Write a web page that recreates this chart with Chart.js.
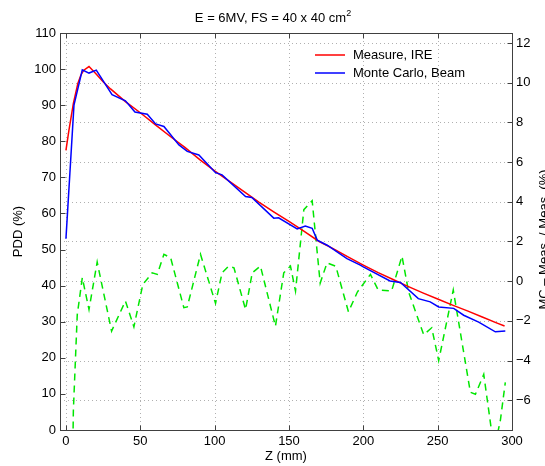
<!DOCTYPE html>
<html>
<head>
<meta charset="utf-8">
<script src="https://cdn.jsdelivr.net/npm/chart.js@4.4.1/dist/chart.umd.min.js"></script>
<style>
html,body{margin:0;padding:0;background:#fff;}
canvas{display:block;}
</style>
</head>
<body>
<canvas id="c" width="545" height="466"></canvas>
<script>
// ---- data ----
const measZ   = [0,2,5,8,10,12,15.5,20,25,30,40,50,60,70,80,90,100,110,120,130,140,150,160,170,180,190,200,210,220,230,240,250,260,270,280,290,295];
const measPDD = [77.5,83,90.5,96,98.3,99.7,100.7,98.8,96.5,94.5,91,87.9,84.6,81.4,78.3,74.9,71.8,68.9,66.0,63.1,60.4,57.8,55.1,52.3,50.2,47.9,45.7,43.6,41.7,39.8,38,36.3,34.6,33,31.3,29.6,28.8];

const mcZ   = [0,5.4,11,15.5,20.4,31,40,46.4,54.7,60.3,65.9,76,81.6,89.4,100.6,105,120.8,125,139.8,143,155.5,161,165.6,169,175.7,189,198,200,218,225,237,245,250.7,260.8,267.5,277.6,288.8,295.5];
const mcPDD = [53,90,99.8,98.9,99.7,92.9,91.2,88.1,87.5,84.8,84.1,79,77.2,76.2,71.3,70.7,64.7,64.4,58.7,58.8,55.7,56.5,55.9,52.6,51.2,47.5,45.7,45.2,41.3,40.9,36.4,35.5,34.1,33.7,31.8,29.9,27.2,27.4];

const diffZ   = [0,5,7.6,11,15.5,21,30.7,40,45.7,51.7,58,61.4,65.9,70.4,79.3,81.6,90.5,100.6,105,109.5,113,120.8,125.3,130.8,140.9,146.5,151,154.4,160,165.6,171,175.6,181.5,190,196,204.8,210,219,226,230.5,240.6,246,250.7,260.5,272,275.4,281,288,292.2,295.5];
const diffVal = [-31,-6.5,-1.7,0.17,-1.43,0.96,-2.52,-1.0,-2.3,-0.17,0.42,0.34,1.35,1.18,-1.34,-1.3,1.35,-1.12,0.42,0.76,0.67,-1.43,0.42,0.76,-2.27,0.42,0.76,-0.5,3.6,4.05,-0.1,0.92,0.75,-1.55,-0.55,0.34,-0.45,-0.5,1.26,-0.55,-2.7,-2.35,-4.0,-0.45,-5.6,-5.7,-4.7,-8.5,-7.0,-5.1];

const xTicks  = [0,50,100,150,200,250,300];
const yTicks  = [0,10,20,30,40,50,60,70,80,90,100,110];
const y2Ticks = [-6,-4,-2,0,2,4,6,8,10,12];

const titleMain = 'E = 6MV, FS = 40 x 40 cm';
const titleSup = '2';
const xTitle = 'Z (mm)';
const yTitle = 'PDD (%)';
const y2Title = 'MC \u2013 Meas. / Meas. (%)';
const seriesNames = ['Measure, IRE', 'Monte Carlo, Beam'];
const seriesColors = ['#ff0000', '#0000ff', '#00e600'];

const FONT = '"Liberation Sans", Arial, Helvetica, sans-serif';
const pts = (xs, ys) => xs.map((v, i) => ({x: v, y: ys[i]}));
const fmt = v => (v < 0 ? '\u2212' + Math.abs(v) : String(v));

const deco = {
  id: 'deco',
  beforeDatasetsDraw(chart) {
    const {ctx, chartArea: a, scales: {x, y2}} = chart;
    ctx.save();
    ctx.strokeStyle = '#b0b0b0';
    ctx.lineWidth = 1;
    ctx.setLineDash([1, 3]);
    xTicks.forEach(v => {
      const px = Math.round(x.getPixelForValue(v)) + 0.5;
      if (px > a.right - 2) return;
      ctx.beginPath(); ctx.moveTo(px, a.top); ctx.lineTo(px, a.bottom); ctx.stroke();
    });
    y2Ticks.forEach(v => {
      const py = Math.round(y2.getPixelForValue(v)) + 0.5;
      ctx.beginPath(); ctx.moveTo(a.left, py); ctx.lineTo(a.right, py); ctx.stroke();
    });
    ctx.restore();
  },
  afterDatasetsDraw(chart) {
    const {ctx, chartArea: a, scales: {x, y, y2}} = chart;
    ctx.save();
    ctx.strokeStyle = '#404040';
    ctx.lineWidth = 1;
    ctx.setLineDash([]);
    const L = Math.round(a.left) + 0.5, R = Math.round(a.right) + 0.5;
    const T = Math.round(a.top) + 0.5, B = Math.round(a.bottom) + 0.5;
    ctx.strokeRect(L, T, R - L, B - T);
    const tl = 5;
    ctx.beginPath();
    xTicks.forEach(v => {
      const px = Math.round(x.getPixelForValue(v)) + 0.5;
      ctx.moveTo(px, B); ctx.lineTo(px, B - tl);
      ctx.moveTo(px, T); ctx.lineTo(px, T + tl);
    });
    yTicks.forEach(v => {
      const py = Math.round(y.getPixelForValue(v)) + 0.5;
      ctx.moveTo(L, py); ctx.lineTo(L + tl, py);
    });
    y2Ticks.forEach(v => {
      const py = Math.round(y2.getPixelForValue(v)) + 0.5;
      ctx.moveTo(R, py); ctx.lineTo(R - tl, py);
    });
    ctx.stroke();
    ctx.restore();
  },
  afterDraw(chart) {
    const {ctx, chartArea: a} = chart;
    ctx.save();
    ctx.fillStyle = '#000';
    ctx.font = '13px ' + FONT;
    // title
    const cx = (a.left + a.right) / 2;
    const tcx = 273;
    const w1 = ctx.measureText(titleMain).width;
    ctx.font = '9px ' + FONT;
    const w2 = ctx.measureText(titleSup).width;
    const startX = tcx - (w1 + w2) / 2;
    ctx.font = '13px ' + FONT;
    ctx.textBaseline = 'alphabetic';
    ctx.textAlign = 'left';
    ctx.fillText(titleMain, startX, 22);
    ctx.font = '9px ' + FONT;
    ctx.fillText(titleSup, startX + w1, 16);
    // x title
    ctx.font = '13px ' + FONT;
    ctx.textAlign = 'center';
    ctx.textBaseline = 'middle';
    ctx.fillText(xTitle, cx, 456);
    // y titles
    const cy = (a.top + a.bottom) / 2;
    ctx.save();
    ctx.translate(18, cy);
    ctx.rotate(-Math.PI / 2);
    ctx.fillText(yTitle, 0, 0);
    ctx.restore();
    ctx.save();
    ctx.translate(544, cy + 8);
    ctx.rotate(-Math.PI / 2);
    ctx.fillText(y2Title, 0, 0);
    ctx.restore();
    // legend
    const ly = [55, 73];
    ctx.textAlign = 'left';
    ctx.lineWidth = 1.5;
    seriesNames.forEach((n, i) => {
      ctx.strokeStyle = seriesColors[i];
      ctx.beginPath(); ctx.moveTo(315, ly[i]); ctx.lineTo(345, ly[i]); ctx.stroke();
      ctx.fillStyle = '#000';
      ctx.fillText(n, 353, ly[i]);
    });
    ctx.restore();
  }
};

const tickFont = {family: FONT, size: 13};

new Chart(document.getElementById('c'), {
  type: 'line',
  data: {
    datasets: [
      {label: seriesNames[0], data: pts(measZ, measPDD), borderColor: seriesColors[0], borderWidth: 1.5, pointRadius: 0, tension: 0, yAxisID: 'y', order: 2},
      {label: seriesNames[1], data: pts(mcZ, mcPDD), borderColor: seriesColors[1], borderWidth: 1.5, pointRadius: 0, tension: 0, yAxisID: 'y', order: 1},
      {label: 'diff', data: pts(diffZ, diffVal), borderColor: seriesColors[2], borderWidth: 1.5, borderDash: [7, 5], pointRadius: 0, tension: 0, yAxisID: 'y2', order: 3}
    ]
  },
  options: {
    responsive: false,
    animation: false,
    devicePixelRatio: 1,
    layout: {padding: {top: 33, left: 0, right: 0, bottom: 0}},
    plugins: {legend: {display: false}, title: {display: false}, tooltip: {enabled: false}},
    scales: {
      x: {
        type: 'linear', position: 'bottom', min: -4, max: 300,
        grid: {display: false, drawTicks: false}, border: {display: false},
        afterBuildTicks: s => { s.ticks = xTicks.map(v => ({value: v})); },
        afterFit: s => { s.height = 36; },
        ticks: {color: '#000', font: tickFont, padding: 4, maxRotation: 0, autoSkip: false, callback: v => fmt(v)}
      },
      y: {
        type: 'linear', position: 'left', min: 0, max: 110,
        grid: {display: false, drawTicks: false}, border: {display: false},
        afterBuildTicks: s => { s.ticks = yTicks.map(v => ({value: v})); },
        afterFit: s => { s.width = 60; },
        ticks: {color: '#000', font: tickFont, padding: 4, autoSkip: false, callback: v => fmt(v)}
      },
      y2: {
        type: 'linear', position: 'right', min: -7.5, max: 12.5,
        grid: {display: false, drawTicks: false}, border: {display: false},
        afterBuildTicks: s => { s.ticks = y2Ticks.map(v => ({value: v})); },
        afterFit: s => { s.width = 33; },
        ticks: {color: '#000', font: tickFont, padding: 4, autoSkip: false, callback: v => fmt(v)}
      }
    }
  },
  plugins: [deco]
});
</script>
</body>
</html>
